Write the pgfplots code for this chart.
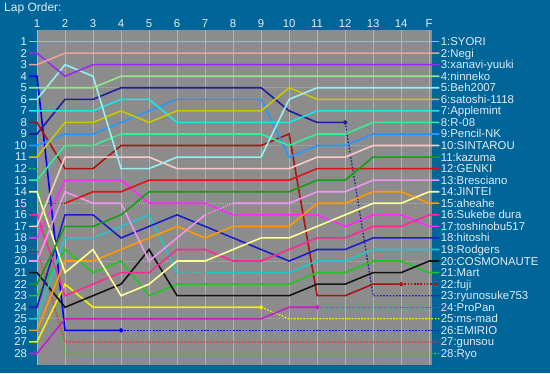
\documentclass[border=0pt]{standalone}
\usepackage{fontspec}
\setmainfont{Liberation Sans}
\usepackage{pgfplots}
\usepackage{pgfplotstable}
\pgfplotsset{compat=1.18}
\definecolor{bg}{RGB}{0,102,153}
\definecolor{plotgray}{RGB}{140,140,140}
\definecolor{gridc}{RGB}{178,178,178}
\definecolor{txt}{RGB}{225,235,245}
\definecolor{c1}{RGB}{150,220,50}
\definecolor{c2}{RGB}{240,160,160}
\definecolor{c3}{RGB}{155,40,245}
\definecolor{c4}{RGB}{150,230,140}
\definecolor{c5}{RGB}{150,240,240}
\definecolor{c6}{RGB}{200,200,0}
\definecolor{c7}{RGB}{30,230,230}
\definecolor{c8}{RGB}{50,240,150}
\definecolor{c9}{RGB}{40,150,255}
\definecolor{c10}{RGB}{255,200,200}
\definecolor{c11}{RGB}{20,160,20}
\definecolor{c12}{RGB}{220,20,20}
\definecolor{c13}{RGB}{240,150,240}
\definecolor{c14}{RGB}{255,255,150}
\definecolor{c15}{RGB}{255,153,0}
\definecolor{c16}{RGB}{255,40,150}
\definecolor{c17}{RGB}{255,40,255}
\definecolor{c18}{RGB}{30,30,200}
\definecolor{c19}{RGB}{30,200,200}
\definecolor{c20}{RGB}{20,20,20}
\definecolor{c21}{RGB}{30,200,30}
\definecolor{c22}{RGB}{170,20,20}
\definecolor{c23}{RGB}{30,30,160}
\definecolor{c24}{RGB}{200,30,200}
\definecolor{c25}{RGB}{240,240,0}
\definecolor{c26}{RGB}{0,0,255}
\definecolor{c27}{RGB}{240,50,50}
\definecolor{c28}{RGB}{50,200,50}

\pgfplotstableread{
x d1 d2 d3 d4 d5 d6 d7 d8 d9 d10 d11 d12 d13 d14 d15 d16 d17 d18 d19 d20 d21 d22 d23 d24 d25 d26 d27 d28
0.714 1 3 2 5 6 11 7 13 10 17 22 15 20 14 26 16 18 24 25 21 23 8 9 28 27 4 19 12
1 1 3 2 5 6 11 7 13 10 17 22 15 20 14 26 16 18 24 25 21 23 8 9 28 27 4 19 12
2 1 2 4 5 3 8 7 10 9 11 17 15 14 21 20 23 13 16 18 24 19 12 6 25 22 26 27 28
3 1 2 3 5 4 8 7 10 9 11 17 14 15 19 20 22 13 16 18 23 21 12 6 25 24 26 27 28
4 1 2 3 4 12 7 6 9 8 11 16 14 15 23 19 21 13 18 17 22 20 10 5 25 24 26 27 28
5 1 2 3 4 12 8 6 9 7 11 14 13 20 22 18 21 15 17 16 19 23 10 5 25 24 26 27 28
6 1 2 3 4 11 7 8 9 6 12 14 13 18 20 17 19 15 16 21 23 22 10 5 25 24 26 27 28
7 1 2 3 4 11 7 8 9 6 12 14 13 16 20 18 19 15 17 21 23 22 10 5 25 24 26 27 28
8 1 2 3 4 11 7 8 9 6 12 14 13 15 19 17 20 16 18 21 23 22 10 5 25 24 26 27 28
9 1 2 3 4 11 7 8 9 6 12 14 13 15 18 17 20 16 19 21 23 22 10 5 25 24 26 27 28
10 1 2 3 4 6 5 8 10 11 12 14 13 15 18 17 19 16 20 21 23 22 9 7 24 25 26 27 28
11 1 2 3 4 5 6 7 9 10 11 13 12 14 17 15 18 16 19 20 22 21 23 8 24 25 26 27 28
12 1 2 3 4 5 6 7 9 10 11 13 12 14 16 15 18 17 19 20 22 21 23 8 24 25 26 27 28
13 1 2 3 4 5 6 7 8 9 10 11 12 13 15 14 17 16 18 19 21 20 22 23 24 25 26 27 28
14 1 2 3 4 5 6 7 8 9 10 11 12 13 15 14 17 16 18 19 21 20 22 23 24 25 26 27 28
15 1 2 3 4 5 6 7 8 9 10 11 12 13 14 15 16 17 18 19 20 21 22 23 24 25 26 27 28
15.36 1 2 3 4 5 6 7 8 9 10 11 12 13 14 15 16 17 18 19 20 21 22 23 24 25 26 27 28
}\laps

\newcommand{\lab}{\fontsize{11.4}{12}\selectfont}
\newcommand{\drv}[1]{\addplot[c#1] table[x=x,y=d#1]{\laps};}
\newcommand{\drvret}[3]{%
  \addplot[c#1, restrict x to domain=0:#2] table[x=x,y=d#1]{\laps};
  \addplot[c#1, dots, restrict x to domain=#2:16] table[x=x,y=d#1]{\laps};
  \addplot[c#1, only marks, mark=square*, mark size=1.3pt] coordinates {(#2,#3)};}
% solid, with one dotted stretch from #2 to #3
\newcommand{\drvdot}[3]{%
  \addplot[c#1, restrict x to domain=0:#2] table[x=x,y=d#1]{\laps};
  \addplot[c#1, dots, restrict x to domain=#2:#3] table[x=x,y=d#1]{\laps};
  \addplot[c#1, restrict x to domain=#3:16] table[x=x,y=d#1]{\laps};}

\begin{document}
\begin{tikzpicture}
\useasboundingbox (-37pt,-8pt) rectangle (513pt,365pt);
\fill[bg] (-37pt,-8pt) rectangle (513pt,365pt);
\node[anchor=base west, inner sep=0pt, text=txt, font=\fontsize{12}{13}\selectfont] at (-33pt,353pt) {Lap Order:};
\begin{axis}[
  at={(0pt,0pt)}, anchor=south west,
  scale only axis, width=395pt, height=335pt,
  xmin=1, xmax=15.1, ymin=0, ymax=29, y dir=reverse,
  xtick={1,...,15},
  xticklabels={1,2,3,4,5,6,7,8,9,10,11,12,13,14,F},
  ytick={1,...,28},
  xticklabel pos=upper,
  major tick length=0pt,
  axis line style={draw=none},
  axis background/.style={fill=plotgray},
  clip=false,
  xmajorgrids,
  grid style={gridc, line width=0.6pt},
  extra y ticks={5,10,15,20,25},
  extra y tick labels={},
  extra y tick style={ymajorgrids=true, major grid style={gridc, line width=0.6pt, dash pattern=on 1pt off 1pt}},
  tick label style={font=\lab, text=txt},
  xticklabel style={yshift=-1pt},
  yticklabel style={xshift=-6.5pt},
  /pgf/number format/assume math mode=true,
  every axis plot/.append style={line width=1.6pt, no markers},
  dots/.style={line width=1.3pt, dash pattern=on 1.6pt off 1.6pt},
]
\addplot[c28, dots, dash pattern=on 2.5pt off 1.5pt] table[x=x,y=d28]{\laps};
\addplot[c27, dots] table[x=x,y=d27]{\laps};
\drvret{26}{4}{26}
\drvret{25}{9}{24}
\drvret{24}{11}{24}
\drvret{23}{12}{8}
\drvret{22}{14}{22}
\drv{21}
\drv{20}
\drvdot{19}{6}{7}
\drv{18}
\drv{17}
\drv{16}
\drv{15}
\drv{14}
\drvdot{13}{7}{8}
\addplot[c12, dots, restrict x to domain=0:2] table[x=x,y=d12]{\laps};
\addplot[c12, restrict x to domain=2:16] table[x=x,y=d12]{\laps};
\drv{11}
\drv{10}
\drv{9}
\drv{8}
\drv{7}
\drv{6}
\drv{5}
\drv{4}
\drv{3}
\drv{2}
\drv{1}
\begin{scope}[every node/.style={anchor=base west, inner sep=0pt, text=txt, font=\lab, yshift=-4pt}]
\node at (axis cs:15.41,1) {1:SYORI};
\node at (axis cs:15.41,2) {2:Negi};
\node at (axis cs:15.41,3) {3:xanavi-yuuki};
\node at (axis cs:15.41,4) {4:ninneko};
\node at (axis cs:15.41,5) {5:Beh2007};
\node at (axis cs:15.41,6) {6:satoshi-1118};
\node at (axis cs:15.41,7) {7:Applemint};
\node at (axis cs:15.41,8) {8:R-08};
\node at (axis cs:15.41,9) {9:Pencil-NK};
\node at (axis cs:15.41,10) {10:SINTAROU};
\node at (axis cs:15.41,11) {11:kazuma};
\node at (axis cs:15.41,12) {12:GENKI};
\node at (axis cs:15.41,13) {13:Bresciano};
\node at (axis cs:15.41,14) {14:JINTEI};
\node at (axis cs:15.41,15) {15:aheahe};
\node at (axis cs:15.41,16) {16:Sukebe dura};
\node at (axis cs:15.41,17) {17:toshinobu517};
\node at (axis cs:15.41,18) {18:hitoshi};
\node at (axis cs:15.41,19) {19:Rodgers};
\node at (axis cs:15.41,20) {20:COSMONAUTE};
\node at (axis cs:15.41,21) {21:Mart};
\node at (axis cs:15.41,22) {22:fuji};
\node at (axis cs:15.41,23) {23:ryunosuke753};
\node at (axis cs:15.41,24) {24:ProPan};
\node at (axis cs:15.41,25) {25:ms-mad};
\node at (axis cs:15.41,26) {26:EMIRIO};
\node at (axis cs:15.41,27) {27:gunsou};
\node at (axis cs:15.41,28) {28:Ryo};
\end{scope}
\end{axis}
\end{tikzpicture}
\end{document}
